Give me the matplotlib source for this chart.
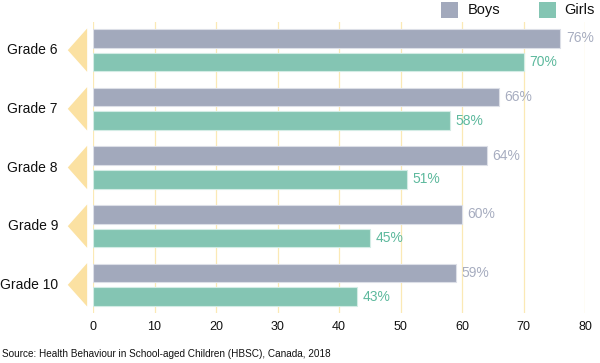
import matplotlib
matplotlib.use("Agg")
import matplotlib.pyplot as plt
from matplotlib.patches import Polygon, Rectangle

plt.rcParams['font.family'] = ['Liberation Sans', 'DejaVu Sans']

grades = ["Grade 6", "Grade 7", "Grade 8", "Grade 9", "Grade 10"]
boys = [76, 66, 64, 60, 59]
girls = [70, 58, 51, 45, 43]
xticks = [0, 10, 20, 30, 40, 50, 60, 70, 80]
source = "Source: Health Behaviour in School-aged Children (HBSC), Canada, 2018"

boys_c = "#A2A9BC"
girls_c = "#84C5B3"
boys_txt = "#A7ADC0"
girls_txt = "#5DB99D"
grid_c = "#FBE9B5"
tri_c = "#FBE1A2"

W, H = 600, 363
fig = plt.figure(figsize=(6.0, 3.63), dpi=100)
ax = fig.add_axes([93 / W, (H - 313) / H, (585 - 93) / W, (313 - 22) / H])

ys = list(range(len(grades)))
bh = 0.32
off = 0.2
ax.barh([y - off for y in ys], boys, height=bh, color=boys_c, edgecolor="#DCDFE7", linewidth=0.8, zorder=3)
ax.barh([y + off for y in ys], girls, height=bh, color=girls_c, edgecolor="#D3ECE5", linewidth=0.8, zorder=3)

for y, b, g in zip(ys, boys, girls):
    ax.text(b + 0.9, y - off, f"{b}%", color=boys_txt, fontsize=10, va="center", ha="left")
    ax.text(g + 0.9, y + off, f"{g}%", color=girls_txt, fontsize=10, va="center", ha="left")
    tri = Polygon([(-0.95, y - 0.37), (-0.95, y + 0.37), (-4.1, y)], closed=True,
                  facecolor=tri_c, edgecolor="none", clip_on=False, zorder=2)
    ax.add_patch(tri)
    ax.text(-5.7, y, grades[y], fontsize=10, ha="right", va="center", color="#111111")

ax.set_xlim(0, 80)
ax.set_ylim(4.48, -0.48)
ax.set_xticks(xticks)
ax.set_xticklabels([str(t) for t in xticks], fontsize=9, color="#111111")
ax.set_yticks([])
ax.tick_params(axis="x", length=0, pad=6)
for s in ax.spines.values():
    s.set_visible(False)
for t in xticks:
    ax.axvline(t, color=grid_c, linewidth=0.9, zorder=1)

# legend
fig.patches.append(Rectangle((441 / W, (H - 18) / H), 17 / W, 16 / H, transform=fig.transFigure,
                             facecolor=boys_c, edgecolor="none"))
fig.text(468 / W, (H - 10) / H, "Boys", fontsize=10.5, va="center", ha="left", color="#111111")
fig.patches.append(Rectangle((539 / W, (H - 18) / H), 17 / W, 16 / H, transform=fig.transFigure,
                             facecolor=girls_c, edgecolor="none"))
fig.text(564 / W, (H - 10) / H, "Girls", fontsize=10.5, va="center", ha="left", color="#111111")

fig.text(2 / W, (H - 354) / H, source, fontsize=7.2, va="center", ha="left", color="#111111")

fig.savefig("out.png", dpi=100)
